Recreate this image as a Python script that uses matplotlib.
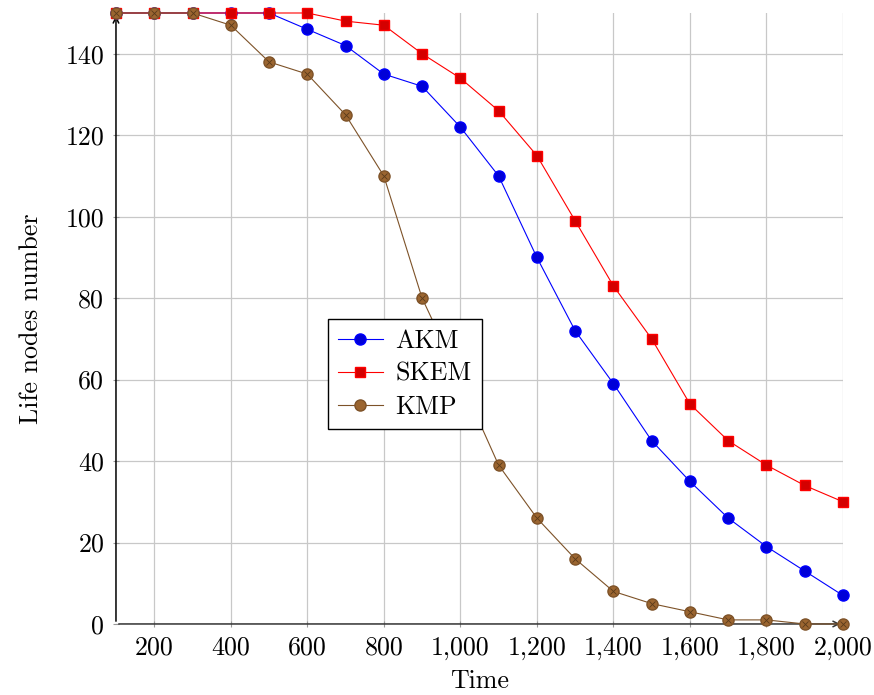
import matplotlib
matplotlib.use("Agg")
import matplotlib.pyplot as plt
from matplotlib.ticker import FuncFormatter, MultipleLocator

plt.rcParams['font.family'] = 'serif'
plt.rcParams['font.serif'] = ['cmr10']
plt.rcParams['axes.unicode_minus'] = False
plt.rcParams['mathtext.fontset'] = 'cm'

time = [100, 200, 300, 400, 500, 600, 700, 800, 900, 1000,
        1100, 1200, 1300, 1400, 1500, 1600, 1700, 1800, 1900, 2000]
akm = [150, 150, 150, 150, 150, 146, 142, 135, 132, 122,
       110, 90, 72, 59, 45, 35, 26, 19, 13, 7]
skem = [150, 150, 150, 150, 150, 150, 148, 147, 140, 134,
        126, 115, 99, 83, 70, 54, 45, 39, 34, 30]
kmp = [150, 150, 150, 147, 138, 135, 125, 110, 80, 60,
       39, 26, 16, 8, 5, 3, 1, 1, 0, 0]

fs = 18.7

fig = plt.figure(figsize=(8.74, 6.95), dpi=100)
ax = fig.add_axes([0.1327, 0.1022, 0.8318, 0.8791])

ax.plot(time, akm, color='#0000ff', lw=0.8, marker='o', ms=8,
        mfc='#0000d8', mec='#0000ff', label='AKM', zorder=3, clip_on=False)
ax.plot(time, skem, color='#ff0000', lw=0.8, marker='s', ms=7.5,
        mfc='#d40000', mec='#ff0000', label='SKEM', zorder=3, clip_on=False)
ax.plot(time, kmp, color='#7d5228', lw=0.8, marker='o', ms=8,
        mfc='#9b6530', mec='#7d5228', label='KMP', zorder=3, clip_on=False)
# the cross inside the KMP markers
ax.plot(time, kmp, ls='none', marker='x', ms=5, mew=0.6, color='#5a3a1a',
        zorder=4, clip_on=False)

ax.set_xlim(100, 2000)
ax.set_ylim(0, 150)
ax.xaxis.set_major_locator(MultipleLocator(200))
ax.set_yticks(range(0, 141, 20))
ax.xaxis.set_major_formatter(FuncFormatter(lambda v, p: f"{v:,.0f}"))

ax.grid(True, color='#c8c8c8', lw=0.9)
ax.set_axisbelow(True)
for s in ax.spines.values():
    s.set_visible(False)
ax.tick_params(direction='inout', length=5, color='#999999', labelsize=fs, pad=6)

# axis lines with arrow heads
ax.annotate('', xy=(0, 1.0), xytext=(0, 0), xycoords='axes fraction',
            arrowprops=dict(arrowstyle='->', color='black', lw=1.1), zorder=2)
ax.annotate('', xy=(1.0, 0), xytext=(0, 0), xycoords='axes fraction',
            arrowprops=dict(arrowstyle='->', color='#333333', lw=1.1), zorder=2)

ax.set_xlabel('Time', fontsize=fs, labelpad=7)
ax.set_ylabel('Life nodes number', fontsize=fs, labelpad=16)

h, l = ax.get_legend_handles_labels()
leg = ax.legend(h, l, loc='upper left', bbox_to_anchor=(0.2916, 0.4992),
                borderaxespad=0, fontsize=fs, fancybox=False, framealpha=1,
                edgecolor='black', handlelength=1.7, handletextpad=0.5,
                labelspacing=0.35, borderpad=0.4)
leg.get_frame().set_linewidth(1.0)
leg.set_zorder(10)

fig.savefig('out.png', dpi=100)
